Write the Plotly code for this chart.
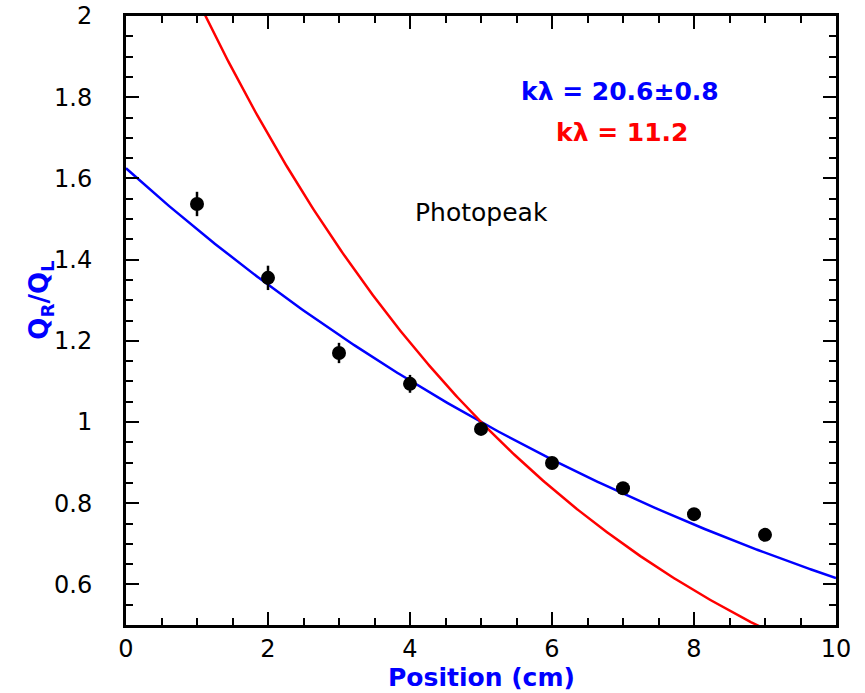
import numpy as np
import plotly.graph_objects as go

# Measured points
position = [1, 2, 3, 4, 5, 6, 7, 8, 9]
ratio = [1.537, 1.355, 1.170, 1.094, 0.983, 0.899, 0.837, 0.773, 0.722]
ratio_err = [0.030, 0.030, 0.025, 0.022, 0.014, 0.010, 0.010, 0.010, 0.008]

# Fit parameters shown in the chart (attenuation model Q_R/Q_L = exp(-2(x-x0)/kλ))
fit_klambda = [20.6, 11.2]
fit_colors = ["#0000ff", "#ff0000"]
fit_labels = ["kλ = 20.6±0.8", "kλ = 11.2"]
x_center = 5.0

xs = np.linspace(0, 10, 401)

fig = go.Figure()
for kl, col in zip(fit_klambda, fit_colors):
    fig.add_trace(go.Scatter(x=xs, y=np.exp(-2 * (xs - x_center) / kl), mode="lines",
                             line=dict(color=col, width=2.5), showlegend=False,
                             hoverinfo="skip"))

fig.add_trace(go.Scatter(x=position, y=ratio, mode="markers",
                         marker=dict(color="black", size=14),
                         error_y=dict(type="data", array=ratio_err, color="black",
                                      thickness=2.5, width=0),
                         showlegend=False))

font_fam = "DejaVu Sans, Verdana, sans-serif"

fig.add_annotation(x=6.96, y=1.815, xref="x", yref="y", text="<b>" + fit_labels[0] + "</b>",
                   showarrow=False, font=dict(color=fit_colors[0], size=25, family=font_fam))
fig.add_annotation(x=6.99, y=1.714, xref="x", yref="y", text="<b>" + fit_labels[1] + "</b>",
                   showarrow=False, font=dict(color=fit_colors[1], size=25, family=font_fam))
fig.add_annotation(x=5.0, y=1.515, xref="x", yref="y", text="Photopeak",
                   showarrow=False, font=dict(color="black", size=25, family=font_fam))
# axis titles placed as in the reference
fig.add_annotation(x=0, y=1.30, xref="paper", yref="y", xshift=-104, textangle=-90,
                   text="<b>Q<sub>R</sub>/Q<sub>L</sub></b>", showarrow=False,
                   font=dict(color="#0000ff", size=26, family=font_fam))
fig.add_annotation(x=5.0, y=0, xref="x", yref="paper", yshift=-52, yanchor="middle",
                   text="<b>Position (cm)</b>", showarrow=False,
                   font=dict(color="#0000ff", size=25, family=font_fam))

axis_common = dict(showline=True, linecolor="black", linewidth=3, mirror="ticks",
                   ticks="inside", ticklen=13, tickwidth=2, tickcolor="black",
                   showgrid=False, zeroline=False, automargin=False,
                   tickfont=dict(size=24, color="black", family=font_fam))

fig.update_xaxes(range=[0, 10], dtick=2, tick0=0,
                 minor=dict(ticks="inside", dtick=0.5, ticklen=7, tickwidth=2,
                            tickcolor="black", showgrid=False),
                 ticklabelstandoff=0,
                 **axis_common)
fig.update_yaxes(range=[0.5, 2], dtick=0.2, tick0=0.6,
                 minor=dict(ticks="inside", dtick=0.05, ticklen=7, tickwidth=2,
                            tickcolor="black", showgrid=False),
                 ticklabelstandoff=26,
                 **axis_common)

fig.update_layout(width=865, height=693, margin=dict(l=126, r=29, t=16, b=68),
                  plot_bgcolor="white", paper_bgcolor="white")

fig.write_html("out.html")
